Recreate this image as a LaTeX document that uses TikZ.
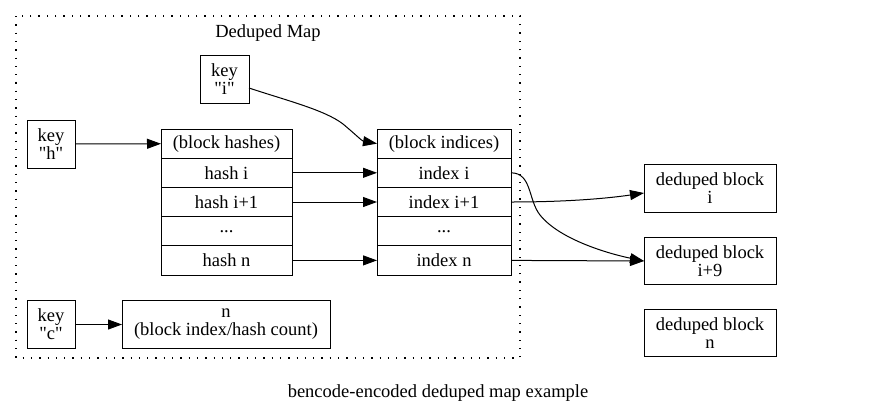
\documentclass[tikz,border=0pt]{standalone}
\usepackage{fontspec}
\setmainfont{Liberation Serif}
\usetikzlibrary{arrows.meta,positioning}

\newcommand{\gapdots}{...}
\newcommand{\qkey}[1]{key\\\textquotedbl#1\textquotedbl}

\tikzset{
    box/.style={draw, line width=1pt, inner sep=0pt, outer sep=0pt, align=center},
    keybox/.style={box, minimum width=48pt, minimum height=48pt},
    rowbox/.style={box, minimum width=131pt, minimum height=29.2pt},
    idxbox/.style={box, minimum width=134pt, minimum height=29.2pt},
    blockbox/.style={box, minimum width=132pt, minimum height=47.5pt},
    edge/.style={line width=1pt, -{Triangle[length=14pt,width=10pt]}},
    cluster/.style={line width=1.3pt, dash pattern=on 1.3pt off 7pt},
}

\begin{document}
\begin{tikzpicture}[x=1pt, y=-1pt, font=\fontsize{18.5}{18}\selectfont]
    \useasboundingbox (0,0) rectangle (877,413);

    % cluster
    \draw[cluster] (16,16) rectangle (520,358);
    \node[anchor=base] (title) at (268,37) {Deduped Map};

    % keys
    \node[keybox, minimum width=49pt] (ki) at (224.5,79) {\qkey{i}};
    \node[keybox] (kh) at (51,144) {\qkey{h}};
    \node[keybox] (kc) at (51,324.5) {\qkey{c}};

    % records
    \foreach \txt [count=\r from 0] in {(block hashes), hash i, hash i+1, \gapdots, hash n}
        \node[rowbox] (hsh\r) at (226.5,{143.6+29.2*\r}) {\txt};
    \foreach \txt [count=\r from 0] in {(block indices), index i, index i+1, \gapdots, index n}
        \node[idxbox] (idx\r) at (444,{143.6+29.2*\r}) {\txt};

    \node[box, minimum width=208pt, minimum height=48.5pt] (cnt) at (226,324.5) {n\\(block index/hash count)};

    % blocks
    \node[blockbox] (dbi) at (710,188.5) {deduped block\\i};
    \node[blockbox] (dbj) at (710,261) {deduped block\\i+9};
    \node[blockbox] (dbn) at (710,333) {deduped block\\n};

    \node (caption) at (438,393) {bencode-encoded deduped map example};

    % edges
    \draw[edge] (kh) -- (hsh0);
    \draw[edge] (kc) -- (cnt);
    \draw[edge] ([yshift=-9pt]ki.east) .. controls (285,100) and (325,110) .. (343,124)
        .. controls (355,134) and (362,141) .. (idx0.west);
    \foreach \r in {1,2,4} \draw[edge] (hsh\r) -- (idx\r);

    \draw[edge] (idx1.east) .. controls (532,173) and (528,200) .. (540,215)
        .. controls (560,240) and (610,254) .. (dbj.west);
    \draw[edge] (idx2.east) .. controls (570,202) and (610,198) .. ([yshift=-4.5pt]dbi.west);
    \draw[edge] (idx4.east) -- (dbj.west);
\end{tikzpicture}
\end{document}
